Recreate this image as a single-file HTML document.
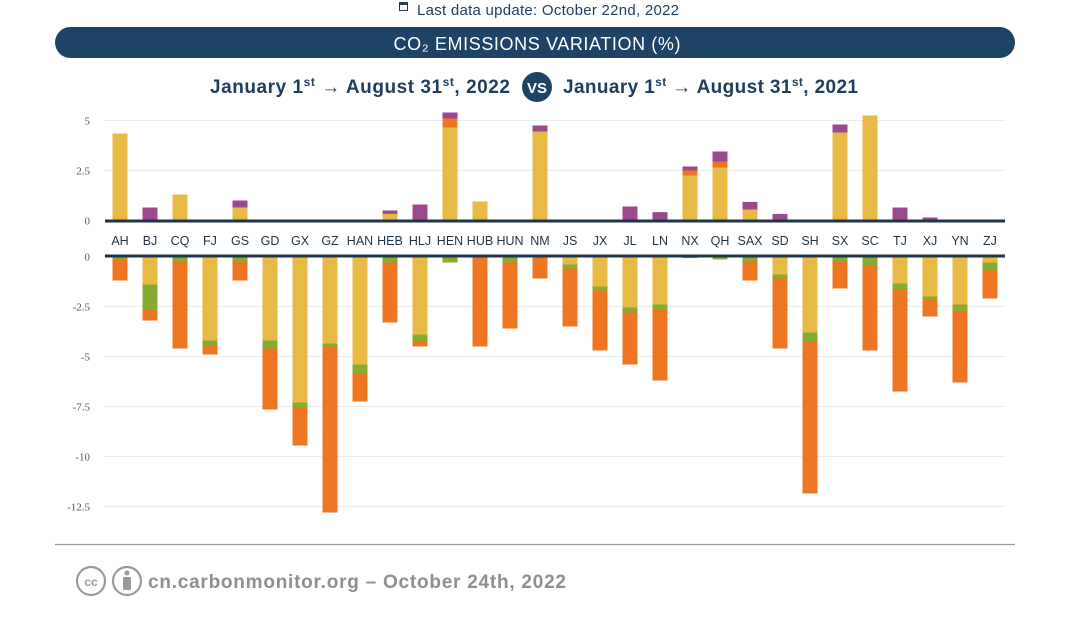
<!DOCTYPE html>
<html><head><meta charset="utf-8">
<style>
html,body{margin:0;padding:0;background:#fff;}
svg{display:block;}
</style></head>
<body>
<svg id="chart" width="1075" height="635" viewBox="0 0 1075 635" xmlns="http://www.w3.org/2000/svg">
  <g>
    <rect x="399" y="2" width="9" height="9" fill="#1f3d5c"/>
    <rect x="400" y="5" width="7" height="5" fill="#fff"/>
    <text x="417" y="15" font-family="Liberation Sans, sans-serif" font-size="15" fill="#1f3d5c" textLength="262">Last data update: October 22nd, 2022</text>
  </g>
  <rect x="55" y="27" width="960" height="31" rx="15.5" fill="#1d4466"/>
  <text x="537" y="50" text-anchor="middle" font-family="Liberation Sans, sans-serif" font-size="18" fill="#fff" textLength="287">CO₂ EMISSIONS VARIATION (%)</text>
  <g font-family="Liberation Sans, sans-serif" font-weight="bold" fill="#1f3d5c">
    <text x="210" y="93" font-size="19" textLength="300" lengthAdjust="spacing">January 1<tspan font-size="12" dy="-7">st</tspan><tspan dy="7"> → August 31</tspan><tspan font-size="12" dy="-7">st</tspan><tspan dy="7">, 2022</tspan></text>
    <circle cx="537" cy="87" r="15" fill="#1d4466"/>
    <text x="537" y="93" font-size="15" fill="#fff" text-anchor="middle">VS</text>
    <text x="563" y="93" font-size="19" textLength="295" lengthAdjust="spacing">January 1<tspan font-size="12" dy="-7">st</tspan><tspan dy="7"> → August 31</tspan><tspan font-size="12" dy="-7">st</tspan><tspan dy="7">, 2021</tspan></text>
  </g>
  <g id="plot"></g>
  <line x1="55" y1="544.5" x2="1015" y2="544.5" stroke="#9a9a9a" stroke-width="1.2"/>
  <g fill="none" stroke="#9a9a9a" stroke-width="2.2">
    <circle cx="91" cy="581" r="14"/>
    <circle cx="127" cy="581" r="14"/>
    <text x="91" y="586" text-anchor="middle" font-family="Liberation Sans, sans-serif" font-size="12" font-weight="bold" fill="#9a9a9a" stroke="none">cc</text>
    <circle cx="127" cy="573" r="2.5" fill="#9a9a9a" stroke="none"/>
    <rect x="123" y="577" width="8" height="13" rx="1.5" fill="#9a9a9a" stroke="none"/>
  </g>
  <text x="148" y="588" font-family="Liberation Sans, sans-serif" font-size="19" font-weight="bold" fill="#8f8f8f" textLength="418">cn.carbonmonitor.org – October 24th, 2022</text>
</svg>
<script>
const categories = ["AH","BJ","CQ","FJ","GS","GD","GX","GZ","HAN","HEB","HLJ","HEN","HUB","HUN","NM","JS","JX","JL","LN","NX","QH","SAX","SD","SH","SX","SC","TJ","XJ","YN","ZJ"];
// positive contributions (stacked upward: yellow, orange, purple)
const posYellow = [4.35,0,1.3,0,0.65,0,0,0,0,0.33,0,4.65,0.95,0,4.45,0,0,0,0,2.25,2.65,0.55,0,0,4.4,5.25,0,0,0,0];
const posOrange = [0,0,0,0,0,0,0,0,0,0,0,0.45,0,0,0,0,0,0,0,0.25,0.3,0,0,0,0,0,0,0,0,0];
const posPurple = [0,0.65,0,0,0.35,0,0,0,0,0.17,0.8,0.3,0,0,0.3,0,0,0.7,0.42,0.2,0.5,0.38,0.33,0,0.4,0,0.65,0.15,0,0];
// negative contributions (stacked downward: yellow, green, orange)
const negYellow = [0,1.4,0,4.2,0,4.2,7.3,4.35,5.4,0,3.9,0,0,0,0,0.4,1.5,2.55,2.4,0,0,0,0.9,3.8,0,0,1.35,2.0,2.4,0.3];
const negGreen = [0.15,1.25,0.25,0.25,0.25,0.4,0.25,0.15,0.45,0.3,0.35,0.3,0.05,0.3,0.05,0.2,0.2,0.25,0.25,0.08,0.15,0.25,0.2,0.45,0.25,0.45,0.3,0.15,0.3,0.4];
const negOrange = [1.05,0.55,4.35,0.45,0.95,3.05,1.9,8.3,1.4,3.0,0.25,0,4.45,3.3,1.05,2.9,3.0,2.6,3.55,0,0,0.95,3.5,7.6,1.35,4.25,5.1,0.85,3.6,1.4];
const posTicks = [0,2.5,5];
const posTickLabels = ["0","2.5","5"];
const negTicks = [0,-2.5,-5,-7.5,-10,-12.5];
const negTickLabels = ["0","-2.5","-5","-7.5","-10","-12.5"];

const NS = "http://www.w3.org/2000/svg";
const plot = document.getElementById("plot");
const PX = 20;
const yPos = v => 220.5 - v * PX;
const yNeg = v => 256.5 - v * PX;
const xCenter = i => 120 + i * 30;
const BW = 15;
const COL = {yellow:"#e6ba45", orange:"#ee7623", purple:"#9a4a8c", green:"#86ad31"};

function mk(tag, attrs){ const e = document.createElementNS(NS, tag); for (const k in attrs) e.setAttribute(k, attrs[k]); plot.appendChild(e); return e; }

posTicks.forEach((t, i) => {
  if (t !== 0) {
    const g = mk("line", {x1:104, x2:1005, y1:yPos(t), y2:yPos(t), stroke:"#ececec", "stroke-width":1});
    
    
  }
  const l = mk("text", {x:90, y:yPos(t)+4, "text-anchor":"end", "font-family":"Liberation Serif, serif", "font-size":11, fill:"#555"});
  l.textContent = posTickLabels[i];
  
  
});
negTicks.forEach((t, i) => {
  if (t !== 0) {
    const g = mk("line", {x1:104, x2:1005, y1:yNeg(t), y2:yNeg(t), stroke:"#ececec", "stroke-width":1});
    
    
  }
  const l = mk("text", {x:90, y:yNeg(t)+4, "text-anchor":"end", "font-family":"Liberation Serif, serif", "font-size":11, fill:"#555"});
  l.textContent = negTickLabels[i];
  
  
});

categories.forEach((c, i) => {
  const x = xCenter(i) - BW/2;
  let acc = 0;
  [[posYellow,"yellow"],[posOrange,"orange"],[posPurple,"purple"]].forEach(([arr, col]) => {
    const v = arr[i];
    if (v > 0) {
      const r = mk("rect", {x:x, y:yPos(acc+v), width:BW, height:v*PX, fill:COL[col]});
      
      
      acc += v;
    }
  });
  acc = 0;
  [[negYellow,"yellow"],[negGreen,"green"],[negOrange,"orange"]].forEach(([arr, col]) => {
    const v = arr[i];
    if (v > 0) {
      const r = mk("rect", {x:x, y:yNeg(-acc), width:BW, height:v*PX, fill:COL[col]});
      
      
      acc += v;
    }
  });
  const t = mk("text", {x:xCenter(i), y:245, "text-anchor":"middle", "font-family":"Liberation Sans, sans-serif", "font-size":12.5, fill:"#1f3447"});
  t.textContent = c;
  
  
});

const z1 = mk("line", {x1:105, x2:1005, y1:221, y2:221, stroke:"#1f3447", "stroke-width":3});


const z2 = mk("line", {x1:105, x2:1005, y1:256, y2:256, stroke:"#1f3447", "stroke-width":3});


</script>
</body></html>
